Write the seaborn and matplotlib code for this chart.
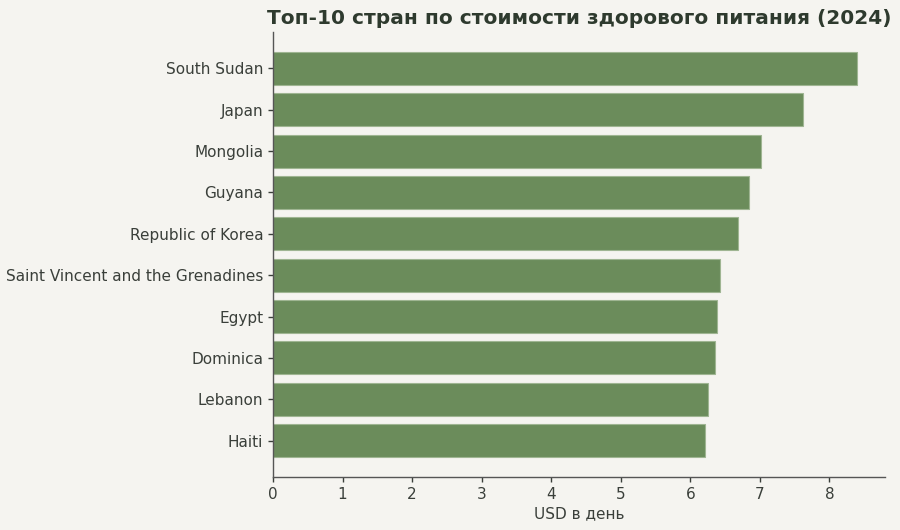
import matplotlib
matplotlib.use("Agg")
import matplotlib.pyplot as plt
import seaborn as sns
import pandas as pd

countries = ["South Sudan", "Japan", "Mongolia", "Guyana", "Republic of Korea",
             "Saint Vincent and the Grenadines", "Egypt", "Dominica", "Lebanon", "Haiti"]
costs = [8.40, 7.62, 7.02, 6.84, 6.69, 6.43, 6.39, 6.36, 6.26, 6.21]

title = "Топ-10 стран по стоимости здорового питания (2024)"
xlabel = "USD в день"

bg = "#f5f4f0"
bar_color = "#6b8c5b"
text_color = "#3a3f3a"

sns.set_theme(style="white")
plt.rcParams['font.family'] = ['DejaVu Sans']

df = pd.DataFrame({"country": countries, "cost": costs})

fig = plt.figure(figsize=(9, 5.3), dpi=100, facecolor=bg)
ax = fig.add_axes([273/900, 1 - 477/530, (885-273)/900, (477-32)/530])
ax.set_facecolor(bg)

sns.barplot(data=df, x="cost", y="country", orient="h", color=bar_color,
            saturation=1, width=0.8, edgecolor="#9fb592", linewidth=0.8, ax=ax)

ax.set_ylim(9.88, -0.88)
ax.set_xlim(0, 8.8)
ax.set_xticks(range(0, 9))
ax.set_xlabel(xlabel, fontsize=11, color=text_color, labelpad=3)
ax.set_ylabel("")
ax.set_title(title, fontsize=14.5, fontweight="bold", color="#2e3a2e", pad=6)
ax.tick_params(axis="both", labelsize=11, colors=text_color, length=3.5, width=1,
               pad=3.5, bottom=True, left=True)
for s in ["top", "right"]:
    ax.spines[s].set_visible(False)
for s in ["left", "bottom"]:
    ax.spines[s].set_color("#555555")
    ax.spines[s].set_linewidth(1.0)

fig.savefig("out.png", dpi=100, facecolor=bg)
